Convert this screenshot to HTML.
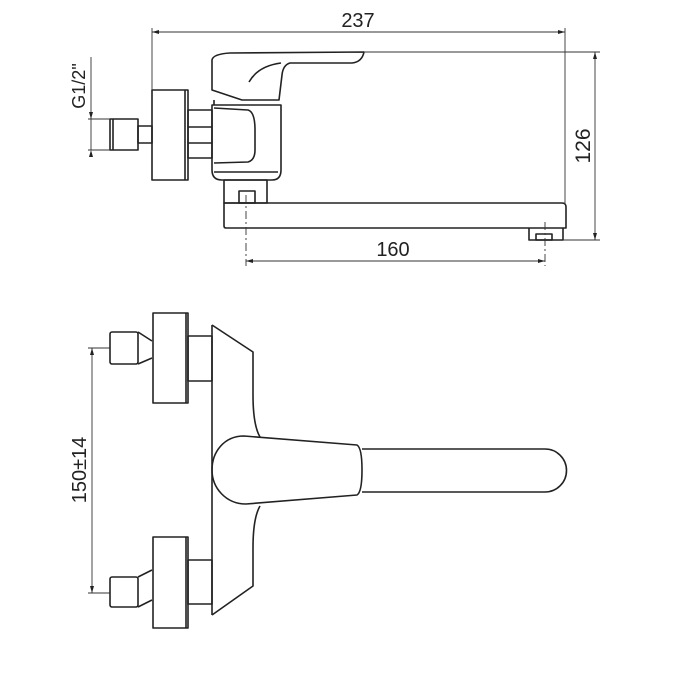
<!DOCTYPE html>
<html><head><meta charset="utf-8"><style>
html,body{margin:0;padding:0;background:#fff}
svg{display:block}
text{font-family:"Liberation Sans",sans-serif;fill:#222}
</style></head><body>
<svg width="678" height="678" viewBox="0 0 678 678" xmlns="http://www.w3.org/2000/svg">
<g fill="none" stroke="#222" stroke-width="1.6" stroke-linejoin="round">
<rect x="110" y="119" width="28" height="31"/>
<line x1="113" y1="119" x2="113" y2="150"/>
<rect x="138" y="126" width="14" height="17"/>
<rect x="152" y="90" width="36" height="90"/>
<line x1="185" y1="90" x2="185" y2="180"/>
<rect x="188" y="110" width="24" height="48"/>
<line x1="188" y1="127" x2="212" y2="127"/>
<line x1="188" y1="143" x2="212" y2="143"/>
<path d="M212,105 L281,105 L281,170 Q281,180 272,180 L222,180 Q212,180 212,170 Z"/>
<path d="M214,108 L248,110 Q255,112 255,130 L255,150 Q255,160 248,162 L214,163"/>
<line x1="214" y1="172" x2="278" y2="172"/>
<path d="M212,90 L212,60 Q213,54 230,53 L364,52 Q362,62 352,63 L290,63 Q283,65 282,75 L279,100 L242,100 Z"/>
<path d="M249,82 Q258,66 281,63"/>
<line x1="214" y1="100" x2="214" y2="105"/>
<rect x="224" y="180" width="43" height="23"/>
<rect x="239" y="191" width="16" height="12"/>
<path d="M224,203 L562,203 Q566,203 566,207 L566,228 L226,228 Q224,228 224,226 Z"/>
<path d="M529,228 L529,240 L563,240 L563,228"/>
<rect x="536" y="234" width="16" height="6"/>
</g>
<g fill="none" stroke="#333" stroke-width="0.9">
<line x1="152" y1="32" x2="565" y2="32"/>
<line x1="152" y1="28" x2="152" y2="90"/>
<line x1="565" y1="28" x2="565" y2="205"/>
<line x1="595" y1="52" x2="595" y2="240"/>
<line x1="364" y1="52" x2="600" y2="52"/>
<line x1="563" y1="240" x2="600" y2="240"/>
<line x1="91" y1="57" x2="91" y2="150"/>
<line x1="88" y1="119" x2="110" y2="119"/>
<line x1="88" y1="150" x2="110" y2="150"/>
<line x1="246" y1="261" x2="545" y2="261"/>
<line x1="246" y1="195" x2="246" y2="266" stroke-dasharray="8,3,2,3"/>
<line x1="545" y1="222" x2="545" y2="266" stroke-dasharray="8,3,2,3"/>
<line x1="92" y1="348" x2="92" y2="593"/>
<line x1="88" y1="348" x2="110" y2="348"/>
<line x1="88" y1="593" x2="110" y2="593"/>
</g>
<g fill="#222">
<path d="M152,32 l7,-2 v4 z"/><path d="M565,32 l-7,-2 v4 z"/>
<path d="M595,52 l-2,7 h4 z"/><path d="M595,240 l-2,-7 h4 z"/>
<path d="M91,119 l-2,-7 h4 z"/><path d="M91,150 l-2,7 h4 z"/>
<path d="M246,261 l7,-2 v4 z"/><path d="M545,261 l-7,-2 v4 z"/>
<path d="M92,348 l-2,7 h4 z"/><path d="M92,593 l-2,-7 h4 z"/>
</g>
<text x="358" y="27" font-size="20" text-anchor="middle">237</text>
<text x="393" y="256" font-size="20" text-anchor="middle">160</text>
<text transform="translate(590,146) rotate(-90)" font-size="21" text-anchor="middle">126</text>
<text transform="translate(85,86) rotate(-90)" font-size="18" text-anchor="middle">G1/2"</text>
<text transform="translate(86,470) rotate(-90)" font-size="20" text-anchor="middle">150±14</text>
<g fill="none" stroke="#222" stroke-width="1.6" stroke-linejoin="round">
<rect x="110" y="332" width="28" height="32" rx="2"/>
<path d="M138,332 L152,341 M138,364 L152,358"/>
<rect x="153" y="313" width="35" height="90"/>
<line x1="186" y1="313" x2="186" y2="403"/>
<rect x="188" y="336" width="24" height="45"/>
<rect x="110" y="577" width="28" height="30" rx="2"/>
<path d="M138,577 L152,570 M138,607 L152,600"/>
<rect x="153" y="537" width="35" height="91"/>
<line x1="186" y1="537" x2="186" y2="628"/>
<rect x="188" y="560" width="24" height="44"/>
<path d="M212,325 L253,352 L253,395 Q253,425 260,437"/>
<path d="M260,506 Q253,518 253,548 L253,586 L212,615"/>
<line x1="212" y1="325" x2="212" y2="615"/>
<path d="M357,445 L244,436 C224,436 212,452 212,470 C212,488 226,504 246,504 L357,495 Q362,492 362,470 Q362,448 357,445 Z"/>
<path d="M362,449 L545,449 A21.5,21.5 0 0 1 545,492 L362,492"/>
</g>
</svg>
</body></html>
